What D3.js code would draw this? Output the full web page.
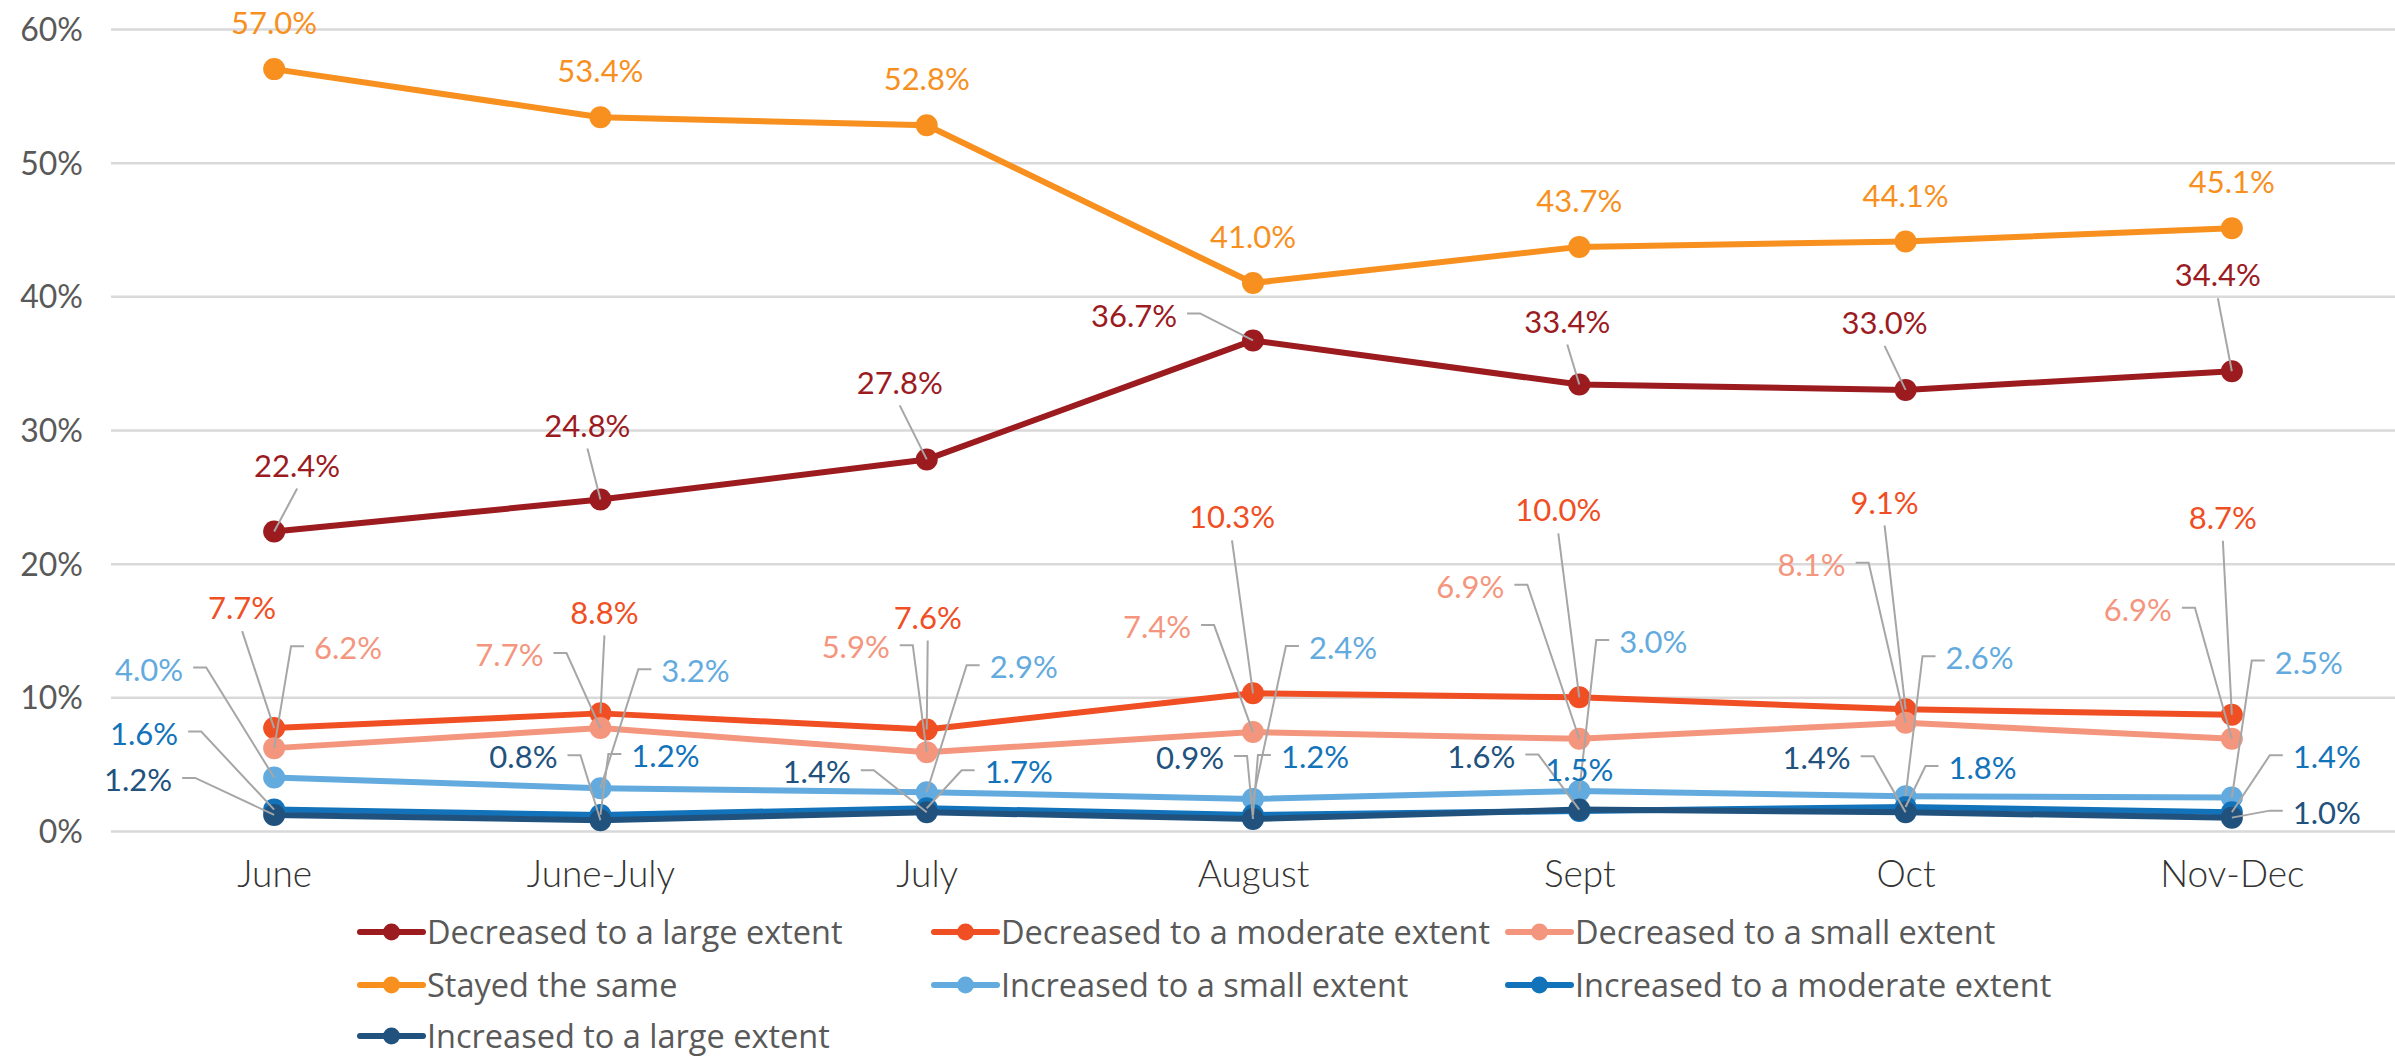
<!DOCTYPE html>
<html>
<head>
<meta charset="utf-8">
<script src="https://cdn.jsdelivr.net/npm/d3@7"></script>
<style>
  html, body { margin: 0; padding: 0; background: #ffffff; }
  svg { display: block; font-family: Lato, "Open Sans", sans-serif; }
</style>
</head>
<body>
<svg id="chart" width="2395" height="1062"></svg>
<script>
// ---------- DATA ----------
const categories = ["June", "June-July", "July", "August", "Sept", "Oct", "Nov-Dec"];
const seriesNames = [
  "Decreased to a large extent",
  "Decreased to a moderate extent",
  "Decreased to a small extent",
  "Stayed the same",
  "Increased to a small extent",
  "Increased to a moderate extent",
  "Increased to a large extent"
];
const decreasedLarge    = [22.4, 24.8, 27.8, 36.7, 33.4, 33.0, 34.4];
const decreasedModerate = [7.7, 8.8, 7.6, 10.3, 10.0, 9.1, 8.7];
const decreasedSmall    = [6.2, 7.7, 5.9, 7.4, 6.9, 8.1, 6.9];
const stayedSame        = [57.0, 53.4, 52.8, 41.0, 43.7, 44.1, 45.1];
const increasedSmall    = [4.0, 3.2, 2.9, 2.4, 3.0, 2.6, 2.5];
const increasedModerate = [1.6, 1.2, 1.7, 1.2, 1.5, 1.8, 1.4];
const increasedLarge    = [1.2, 0.8, 1.4, 0.9, 1.6, 1.4, 1.0];
const yTickValues = [0, 10, 20, 30, 40, 50, 60];

// ---------- STYLE / LAYOUT ----------
const seriesColors = ["#9B1B1F", "#F04E23", "#F4967E", "#F7901E", "#63ABDE", "#1273BA", "#21527E"];
// label placement relative to its point: [dx, dy, leader type]
// v = straight leader from label bottom, L = label left of point (elbow), R = label right (elbow), n = no leader
const labelPlacement = [
  [[23,-66,"v"],[-13,-74,"v"],[-27,-77,"v"],[-119,-25,"L"],[-12,-63,"v"],[-21,-67,"v"],[-14,-96,"v"]],
  [[-32,-120,"v"],[4,-101,"v"],[1,-112,"v"],[-21,-176,"v"],[-21,-187,"v"],[-21,-207,"v"],[-9,-197,"v"]],
  [[74,-100,"R"],[-91,-73,"L"],[-71,-105,"L"],[-96,-105,"L"],[-109,-152,"L"],[-94,-158,"L"],[-94,-129,"L"]],
  [[0,-46,"n"],[0,-46,"n"],[0,-46,"n"],[0,-46,"n"],[0,-46,"n"],[0,-46,"n"],[0,-46,"n"]],
  [[-125,-108,"L"],[95,-117,"R"],[97,-125,"R"],[90,-151,"R"],[74,-149,"R"],[74,-138,"R"],[77,-135,"R"]],
  [[-130,-76,"L"],[65,-59,"R"],[92,-36,"R"],[62,-58,"R"],[0,-41,"n"],[77,-39,"R"],[95,-55,"R"]],
  [[-136,-35,"L"],[-77,-63,"L"],[-110,-40,"L"],[-63,-61,"L"],[-98,-53,"L"],[-89,-54,"L"],[95,-5,"R"]]
];

const seriesValues = [decreasedLarge, decreasedModerate, decreasedSmall, stayedSame,
                      increasedSmall, increasedModerate, increasedLarge];
const series = seriesNames.map((name, i) => ({
  name, color: seriesColors[i], index: i,
  points: categories.map((c, j) => ({ cat: c, value: seriesValues[i][j], place: labelPlacement[i][j] }))
}));

const plotLeft = 111, plotRight = 2395, plotTop = 29, plotBottom = 831;

const svg = d3.select("#chart");

const x = d3.scalePoint().domain(categories).range([plotLeft, plotRight]).padding(0.5);
const y = d3.scaleLinear().domain([0, 60]).range([plotBottom, plotTop]);

// ---------- AXES ----------
const yAxis = svg.append("g")
  .attr("transform", `translate(${plotLeft},0)`)
  .call(d3.axisLeft(y).tickValues(yTickValues).tickFormat(d => d + "%")
        .tickSize(-(plotRight - plotLeft)).tickPadding(28));
yAxis.select(".domain").remove();
yAxis.selectAll(".tick line").attr("stroke", "#D9D9D9").attr("stroke-width", 2.5);
yAxis.selectAll(".tick text")
  .attr("fill", "#595959").attr("font-size", 32).attr("font-family", "Lato, sans-serif")
  .attr("dy", "0.36em");

const xAxis = svg.append("g")
  .attr("transform", `translate(0,${plotBottom})`)
  .call(d3.axisBottom(x).tickSize(0).tickPadding(0));
xAxis.select(".domain").remove();
xAxis.selectAll(".tick text")
  .attr("fill", "#333333").attr("font-size", 37).attr("font-weight", 300)
  .attr("font-family", "Lato, sans-serif")
  .attr("y", 43).attr("dy", "0.36em");

// ---------- SERIES ----------
const line = d3.line().x(d => x(d.cat)).y(d => y(d.value));
const gSeries = svg.append("g");
series.forEach(s => {
  const g = gSeries.append("g");
  g.append("path").datum(s.points)
    .attr("d", line).attr("fill", "none").attr("stroke", s.color)
    .attr("stroke-width", 6).attr("stroke-linejoin", "round");
  g.selectAll("circle").data(s.points).join("circle")
    .attr("cx", d => x(d.cat)).attr("cy", d => y(d.value)).attr("r", 11)
    .attr("fill", s.color);
});

// ---------- LABELS & LEADERS ----------
const gLeaders = svg.append("g");
const gLabels = svg.append("g");
series.forEach(s => {
  s.points.forEach(p => {
    const px = x(p.cat), py = y(p.value);
    const [dx, dy, type] = p.place;
    const lx = px + dx, ly = py + dy;
    const t = gLabels.append("text")
      .attr("x", lx).attr("y", ly).attr("dy", "0.36em")
      .attr("text-anchor", "middle")
      .attr("font-size", 31).attr("font-family", "Lato, sans-serif")
      .attr("fill", s.color)
      .text(p.value.toFixed(1) + "%");
    const w = t.node().getComputedTextLength();
    let pts = null;
    if (type === "v") {
      pts = [[lx, ly + 23], [px, py]];
    } else if (type === "L") {
      const sx = lx + w / 2 + 10;
      pts = [[sx, ly - 2], [sx + 13, ly - 2], [px, py]];
    } else if (type === "R") {
      const sx = lx - w / 2 - 10;
      pts = [[sx, ly - 2], [sx - 13, ly - 2], [px, py]];
    }
    if (pts) {
      gLeaders.append("path")
        .attr("d", d3.line()(pts))
        .attr("fill", "none").attr("stroke", "#A6A6A6").attr("stroke-width", 2);
    }
  });
});

// ---------- LEGEND ----------
const legendCols = [360, 934, 1508];
const legendRows = [932, 985, 1036];
const legend = svg.append("g");
series.forEach((s, i) => {
  const lx = legendCols[i % 3], ly = legendRows[Math.floor(i / 3)];
  const g = legend.append("g").attr("transform", `translate(${lx},${ly})`);
  g.append("line").attr("x1", 0).attr("x2", 63).attr("y1", 0).attr("y2", 0)
    .attr("stroke", s.color).attr("stroke-width", 6).attr("stroke-linecap", "round");
  g.append("circle").attr("cx", 31.5).attr("cy", 0).attr("r", 8.5).attr("fill", s.color);
  g.append("text").attr("x", 67).attr("y", 0).attr("dy", "0.36em")
    .attr("font-size", 32.5).attr("font-family", "'Open Sans', sans-serif").attr("fill", "#595959")
    .text(s.name);
});
</script>
</body>
</html>
